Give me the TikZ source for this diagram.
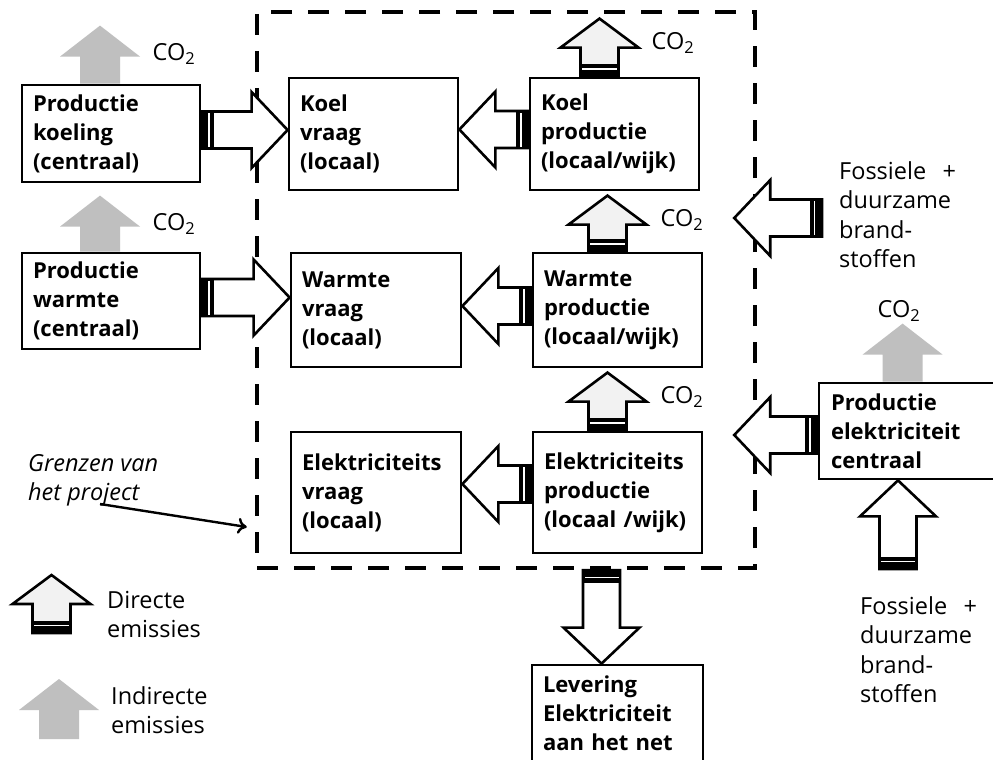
\documentclass[tikz,border=0pt]{standalone}
\usepackage{fontspec}
\setmainfont{Open Sans}
\usetikzlibrary{calc,arrows.meta}

\definecolor{directfill}{HTML}{F2F2F2}
\definecolor{indirectfill}{HTML}{BFBFBF}

\newcommand\boxfont{\bfseries\fontsize{22}{29}\selectfont}
\newcommand\labelfont{\fontsize{23.5}{29.5}\selectfont}

% parameters of a block arrow: shaft half width, head half width, head length, tail bars
\def\blkS{18}\def\blkH{38}\def\blkT{36}\def\blkB{1}
\tikzset{
  blk S/.store in=\blkS, blk H/.store in=\blkH, blk T/.store in=\blkT, blk B/.store in=\blkB,
  flowarrow/.style={blk S=18.5, blk H=38, blk T=36, blk B=1,
    blkbody/.style={fill=white, draw=black, line width=2.6pt, line join=miter}},
  directarrow/.style={blk S=19, blk H=39, blk T=29, blk B=1,
    blkbody/.style={fill=directfill, draw=black, line width=2.6pt, line join=miter}},
  indirectarrow/.style={blk S=20, blk H=40, blk T=31, blk B=0,
    blkbody/.style={fill=indirectfill}},
  box/.style={draw, line width=2.8pt, inner xsep=11pt, inner ysep=0pt, align=left, font=\boxfont},
  label/.style={inner sep=0pt, align=left, font=\labelfont, anchor=north west},
  co2/.style={inner sep=0pt, font=\labelfont},
  boundary/.style={draw, line width=4.5pt, dash pattern=on 21pt off 16pt},
  pointer/.style={line width=2.4pt, -{To[length=9pt,width=16pt,line width=2.4pt]}}
}

% block arrow from tail #2 to tip #3, pointing in direction #4 (degrees)
\newcommand\blkarrow[4]{%
  \path let \p1=#2, \p2=#3, \n1={max(abs(\x2-\x1),abs(\y2-\y1))} in
    \pgfextra{\pgfmathsetmacro\blklen{\n1}\global\let\blklen\blklen};
  \begin{scope}[shift={#2}, rotate=#4, #1]
    \path[blkbody] (0,-\blkS) -- ({\blklen-\blkT},-\blkS) -- ({\blklen-\blkT},-\blkH)
      -- (\blklen,0) -- ({\blklen-\blkT},\blkH) -- ({\blklen-\blkT},\blkS) -- (0,\blkS) -- cycle;
    \ifnum\blkB=1
      \fill[black] (0,{-\blkS}) rectangle (12.5,\blkS);
      \draw[white, line width=1.4pt] (7.5,{-\blkS+1.5}) -- (7.5,{\blkS-1.5});
    \fi
  \end{scope}}

\begin{document}
\begin{tikzpicture}[x=1pt,y=-1pt]
\useasboundingbox[fill=white] (0,0) rectangle (993,760);

% project boundary
\node[boundary, minimum width=498pt, minimum height=556pt] (proj) at (506,290) {};

% boxes
\node[box, minimum width=178pt, minimum height=97pt, text width=156pt] (pk) at (111,133.5)
  {Productie\\koeling\\(centraal)};
\node[box, minimum width=178pt, minimum height=96pt, text width=156pt] (pw) at (111,301)
  {Productie\\warmte\\(centraal)};
\node[box, minimum width=169pt, minimum height=112pt, text width=147pt] (kv) at (373.5,134)
  {Koel\\vraag\\(locaal)};
\node[box, minimum width=169pt, minimum height=112pt, text width=147pt] (kp) at (614.5,134)
  {Koel\\productie\\(locaal/wijk)};
\node[box, minimum width=170pt, minimum height=114pt, text width=148pt] (wv) at (376,310)
  {Warmte\\vraag\\(locaal)};
\node[box, minimum width=169pt, minimum height=114pt, text width=147pt] (wp) at (617.5,310)
  {Warmte\\productie\\(locaal/wijk)};
\node[box, minimum width=170pt, minimum height=121pt, text width=148pt] (ev) at (376,492.5)
  {Elektriciteits\\vraag\\(locaal)};
\node[box, minimum width=169pt, minimum height=121pt, text width=147pt] (ep) at (617.5,492.5)
  {Elektriciteits\\productie\\(locaal /wijk)};
\node[box, minimum width=200pt, minimum height=96pt, text width=178pt, inner xsep=12pt] (pe) at (920,431)
  {Productie\\elektriciteit\\centraal};
\node[box, minimum width=171pt, minimum height=96pt, text width=149pt] (lv) at (617.5,713)
  {Levering\\Elektriciteit\\aan het net};

% arrow end points
\coordinate (kpco2) at ($(kp.north)+(-15,-58)$);
\coordinate (wpco2) at ($(wp.north)+(-10,-56)$);
\coordinate (epco2) at ($(ep.north)+(-10,-58)$);
\coordinate (pkco2) at ($(pk.north)+(-11,-58)$);
\coordinate (pwco2) at ($(pw.north)+(-11,-56)$);
\coordinate (peco2) at ($(pe.north west)+(85,-58)$);
\coordinate (fuelA) at (822,218);
\coordinate (fuelAtip) at ($(proj.east)+(-23,-72)$);
\coordinate (petip) at ($(proj.east)+(-23,145)$);
\coordinate (fuelB) at (898,569);
\coordinate (gridtail) at ($(proj.south)+(95.5,0)$);

% energy flows
\blkarrow{flowarrow}{($(pk.east)+(0,-3.5)$)}{($(kv.west)+(0,-4)$)}{0}
\blkarrow{flowarrow}{($(pw.east)+(0,-3.5)$)}{($(wv.west)+(0,-13)$)}{0}
\blkarrow{flowarrow}{($(kp.west)+(0,-4.5)$)}{($(kv.east)+(0,-4.5)$)}{180}
\blkarrow{flowarrow}{($(wp.west)+(0,-4)$)}{($(wv.east)+(0,-4)$)}{180}
\blkarrow{flowarrow}{($(ep.west)+(0,-8.5)$)}{($(ev.east)+(0,-8.5)$)}{180}
\blkarrow{flowarrow}{(fuelA)}{(fuelAtip)}{180}
\blkarrow{flowarrow}{($(pe.west)+(0,4)$)}{(petip)}{180}
\blkarrow{flowarrow}{(fuelB)}{($(pe.south west)+(78,0)$)}{90}
\blkarrow{flowarrow}{(gridtail)}{($(lv.north)+(-16,0)$)}{-90}

% direct emissions
\blkarrow{directarrow}{($(kp.north)+(-15,0)$)}{(kpco2)}{90}
\blkarrow{directarrow}{($(wp.north)+(-10,0)$)}{(wpco2)}{90}
\blkarrow{directarrow}{($(ep.north)+(-10,0)$)}{(epco2)}{90}

% indirect emissions
\blkarrow{indirectarrow}{($(pk.north)+(-11,0)$)}{(pkco2)}{90}
\blkarrow{indirectarrow}{($(pw.north)+(-11,0)$)}{(pwco2)}{90}
\blkarrow{indirectarrow}{($(pe.north west)+(85,0)$)}{(peco2)}{90}

% CO2 labels
\node[co2] (c1) at (673,43) {CO\textsubscript{2}};
\node[co2] (c2) at (682,220) {CO\textsubscript{2}};
\node[co2] (c3) at (682,397) {CO\textsubscript{2}};
\node[co2] (c4) at (174,54) {CO\textsubscript{2}};
\node[co2] (c5) at (174,224) {CO\textsubscript{2}};
\node[co2] (c6) at (899,311) {CO\textsubscript{2}};

% fuel labels
\node[label] (fuel1) at (839,161) {Fossiele\hspace{0.7em}+\\duurzame\\brand-\\stoffen};
\node[label] (fuel2) at (860,596) {Fossiele\hspace{0.7em}+\\duurzame\\brand-\\stoffen};

% project boundary annotation
\node[label, font=\labelfont\itshape] (grenzen) at (28,454) {Grenzen van\\het project};
\coordinate (gstart) at (100,504);
\coordinate (gend) at ($(proj.west)+(-8,237)$);
\draw[pointer] (gstart) -- (gend);

% legend
\coordinate (legd) at (51.5,575);
\coordinate (legi) at (59,679);
\blkarrow{directarrow}{(51.5,633)}{(legd)}{90}
\blkarrow{indirectarrow}{(59,739)}{(legi)}{90}
\node[label] (legdt) at (107,591) {Directe\\emissies};
\node[label] (legit) at (111,686) {Indirecte\\emissies};
\end{tikzpicture}
\end{document}
